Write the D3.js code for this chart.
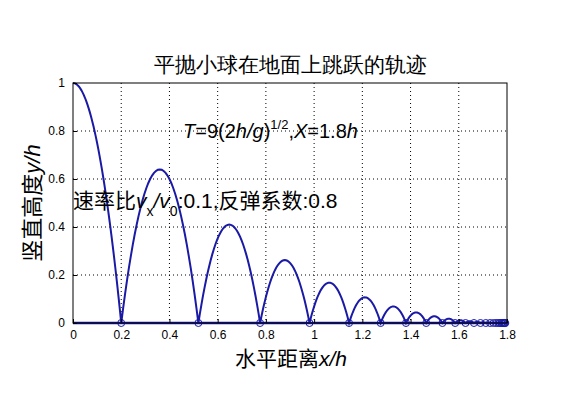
<!DOCTYPE html>
<html><head><meta charset="utf-8">
<script src="https://cdn.jsdelivr.net/npm/d3@7"></script>
<style>body{margin:0;background:#fff}text{font-family:"Liberation Sans",Arial,sans-serif}</style>
</head><body>
<script>
// bounce positions (x/h) and the peak height of the arc that ends there
var bounceX = [0.2, 0.52, 0.776, 0.981, 1.145, 1.276, 1.381, 1.465, 1.532, 1.585, 1.628, 1.663, 1.690, 1.712, 1.730, 1.744, 1.755, 1.764, 1.771, 1.777, 1.782, 1.786, 1.789, 1.791, 1.793];
var peakY = [1, 0.64, 0.41, 0.262, 0.168, 0.107, 0.069, 0.044, 0.028, 0.018, 0.0115, 0.0074, 0.0047, 0.003, 0.0019, 0.0012, 0.0008, 0.0005, 0.0003, 0.0002, 0.0001, 0.0001, 0.0001, 0.0001, 0.0001];
var xTicks = [0, 0.2, 0.4, 0.6, 0.8, 1, 1.2, 1.4, 1.6, 1.8];
var yTicks = [0, 0.2, 0.4, 0.6, 0.8, 1];

var W = 561, H = 420, L = 73, R = 507, T = 83, B = 323;
var svg = d3.select("body").append("svg").attr("width", W).attr("height", H);
var x = d3.scaleLinear().domain([0, 1.8]).range([L, R]);
var y = d3.scaleLinear().domain([0, 1]).range([B, T]);

// grid
svg.selectAll(".gx").data(xTicks.slice(1, -1)).enter().append("line")
	.attr("x1", d => x(d)).attr("x2", d => x(d)).attr("y1", T).attr("y2", B)
	.attr("stroke", "#000").attr("stroke-width", 1).attr("stroke-dasharray", "1,3");
svg.selectAll(".gy").data(yTicks.slice(1, -1)).enter().append("line")
	.attr("y1", d => y(d)).attr("y2", d => y(d)).attr("x1", L).attr("x2", R)
	.attr("stroke", "#000").attr("stroke-width", 1).attr("stroke-dasharray", "1,3");

// build trajectory points from the arcs
var pts = [];
var start = 0;
for (var i = 0; i < bounceX.length; i++) {
	var end = bounceX[i], h = peakY[i];
	var n = 40;
	for (var k = 0; k <= n; k++) {
		var t = k / n;
		if (i == 0) {
			pts.push([end * t, h * (1 - t * t)]);
		} else {
			pts.push([start + (end - start) * t, h * 4 * t * (1 - t)]);
		}
	}
	start = end;
}
pts.push([1.8, 0]);

var line = d3.line().x(d => x(d[0])).y(d => y(d[1]));
svg.append("path").attr("d", line(pts)).attr("fill", "none")
	.attr("stroke", "#1a1aa6").attr("stroke-width", 2);
svg.append("line").attr("x1", x(0)).attr("x2", x(1.8)).attr("y1", y(0)).attr("y2", y(0))
	.attr("stroke", "#1a1aa6").attr("stroke-width", 2.5);
svg.selectAll(".b").data(bounceX).enter().append("circle")
	.attr("cx", d => x(d)).attr("cy", y(0)).attr("r", 3.5)
	.attr("fill", "none").attr("stroke", "#1a1aa6").attr("stroke-width", 1);

// axes box
svg.append("rect").attr("x", L).attr("y", T).attr("width", R - L).attr("height", B - T)
	.attr("fill", "none").attr("stroke", "#000");
svg.append("g").attr("transform", "translate(0," + B + ")")
	.call(d3.axisBottom(x).tickValues(xTicks).tickSize(-4).tickPadding(7).tickFormat(d3.format("")))
	.call(g => { g.select(".domain").remove(); g.selectAll("text").attr("font-size", 12).attr("fill", "#000"); });
svg.append("g").attr("transform", "translate(" + L + ",0)")
	.call(d3.axisLeft(y).tickValues(yTicks).tickSize(-4).tickPadding(8).tickFormat(d3.format("")))
	.call(g => { g.select(".domain").remove(); g.selectAll("text").attr("font-size", 12).attr("fill", "#000"); });

svg.append("text").attr("x", 290).attr("y", 72).attr("text-anchor", "middle")
	.attr("font-size", 21).attr("font-family", "Noto Sans CJK SC").text("平抛小球在地面上跳跃的轨迹");

var xl = svg.append("text").attr("x", 291).attr("y", 366).attr("text-anchor", "middle").attr("font-size", 21);
xl.append("tspan").attr("font-family", "Noto Sans CJK SC").text("水平距离");
xl.append("tspan").attr("font-style", "italic").text("x/h");

var yl = svg.append("text").attr("transform", "translate(40,203) rotate(-90)").attr("text-anchor", "middle").attr("font-size", 22);
yl.append("tspan").attr("font-family", "Noto Sans CJK SC").text("竖直高度");
yl.append("tspan").attr("font-style", "italic").text("y/h");

var a1 = svg.append("text").attr("x", 183).attr("y", 138).attr("font-size", 20);
a1.append("tspan").attr("font-style", "italic").text("T");
a1.append("tspan").text("=9(2");
a1.append("tspan").attr("font-style", "italic").text("h/g");
a1.append("tspan").text(")");
a1.append("tspan").attr("font-size", 13).attr("dy", -9).text("1/2");
a1.append("tspan").attr("dy", 9).text(",");
a1.append("tspan").attr("font-style", "italic").text("X");
a1.append("tspan").text("=1.8");
a1.append("tspan").attr("font-style", "italic").text("h");

var a2 = svg.append("text").attr("x", 73).attr("y", 208).attr("font-size", 21);
a2.append("tspan").attr("font-family", "Noto Sans CJK SC").text("速率比");
a2.append("tspan").attr("font-style", "italic").text("v");
a2.append("tspan").attr("font-size", 14).attr("dy", 8).text("x");
a2.append("tspan").attr("dy", -8).attr("font-style", "italic").text("/v");
a2.append("tspan").attr("font-size", 14).attr("dy", 8).text("0");
a2.append("tspan").attr("dy", -8).text(":0.1,");
a2.append("tspan").attr("font-family", "Noto Sans CJK SC").text("反弹系数");
a2.append("tspan").text(":0.8");
</script>
</body></html>
